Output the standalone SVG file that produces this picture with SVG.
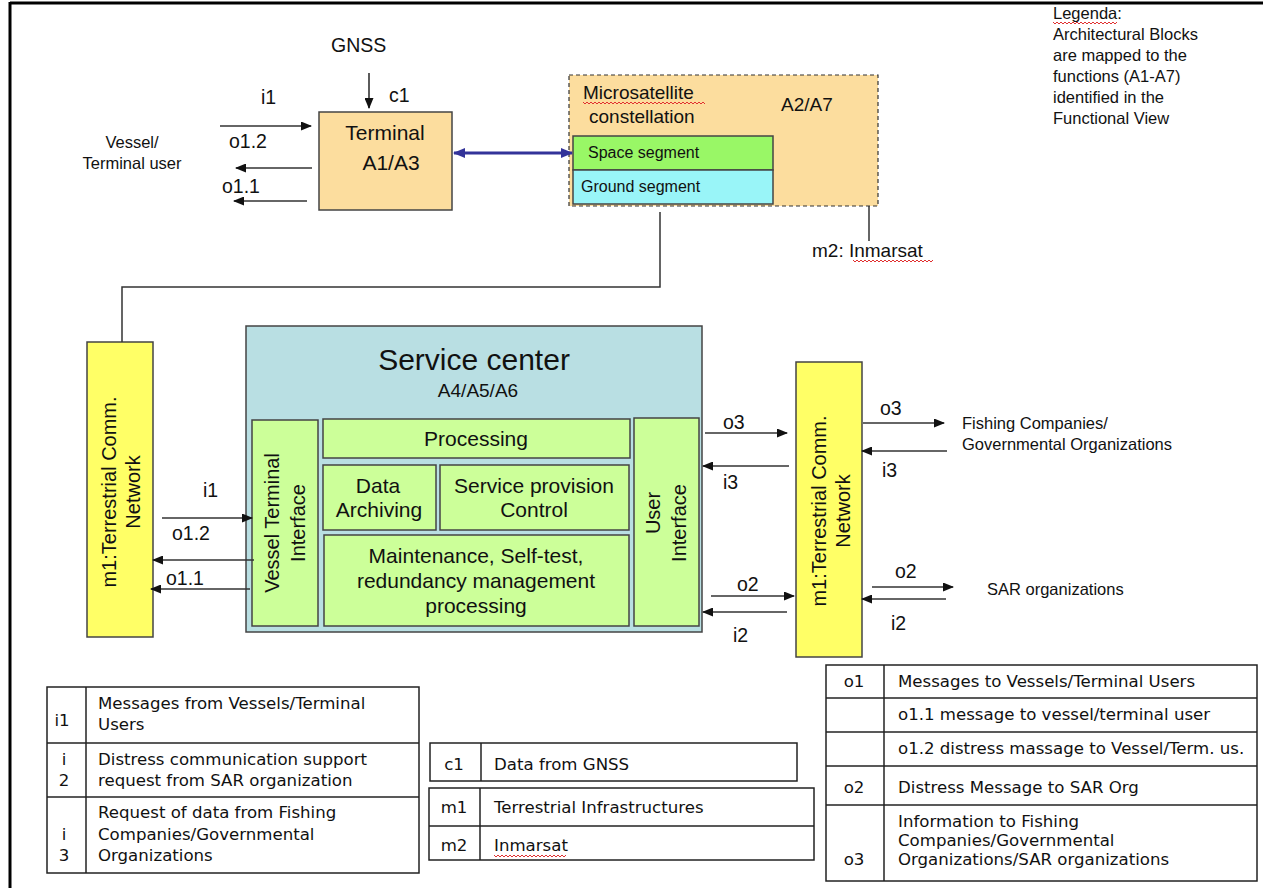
<svg xmlns="http://www.w3.org/2000/svg" width="1263" height="888" viewBox="0 0 1263 888">
  <defs>
    <marker id="ah" markerWidth="11" markerHeight="9" refX="10" refY="4.5" orient="auto" markerUnits="userSpaceOnUse">
      <path d="M0,0 L11,4.5 L0,9 Z" fill="#111"/>
    </marker>
    <marker id="bh" markerWidth="12" markerHeight="10" refX="11" refY="5" orient="auto-start-reverse" markerUnits="userSpaceOnUse">
      <path d="M0,0 L12,5 L0,10 Z" fill="#333399"/>
    </marker>
  </defs>
  <style>
    .t { font-family: "Liberation Sans", Arial, sans-serif; fill: #111; }
    .tb { font-family: "DejaVu Sans", "Liberation Sans", sans-serif; fill: #111; font-size: 16.6px; }
    .box { stroke: #444; stroke-width: 1.5; }
    .arr { stroke: #333; stroke-width: 1.6; fill: none; marker-end: url(#ah); }
    .wire { stroke: #333; stroke-width: 1.5; fill: none; }
    .tbl { fill: #fff; stroke: #222; stroke-width: 1.5; }
    .tl { stroke: #222; stroke-width: 1.5; }
    .sq { stroke: #e03030; stroke-width: 1; fill: none; }
  </style>

  <rect width="1263" height="888" fill="#fff"/>
  <!-- page frame -->
  <line x1="10" y1="3" x2="1263" y2="3" stroke="#000" stroke-width="3"/>
  <line x1="10" y1="2" x2="10" y2="888" stroke="#000" stroke-width="3"/>

  <!-- legend note -->
  <g id="legend-note" class="t" font-size="16.5">
    <text x="1053" y="19">Legenda:</text>
    <text x="1053" y="40">Architectural Blocks</text>
    <text x="1053" y="61">are mapped to the</text>
    <text x="1053" y="82">functions (A1-A7)</text>
    <text x="1053" y="103">identified in the</text>
    <text x="1053" y="124">Functional View</text>
    <polyline class="sq" points="1053,22 1055,24 1057,22 1059,24 1061,22 1063,24 1065,22 1067,24 1069,22 1071,24 1073,22 1075,24 1077,22 1079,24 1081,22 1083,24 1085,22 1087,24 1089,22 1091,24 1093,22 1095,24 1097,22 1099,24 1101,22 1103,24 1105,22 1107,24 1109,22 1111,24 1113,22 1115,24 1117,22"/>
  </g>

  <!-- external actors -->
  <g id="gnss" class="t" font-size="19.5"><text x="331" y="52">GNSS</text></g>
  <g id="vessel-user" class="t" font-size="16.5" text-anchor="middle">
    <text x="132" y="148">Vessel/</text>
    <text x="132" y="169">Terminal user</text>
  </g>
  <g id="fishing" class="t" font-size="16.5">
    <text x="962" y="429">Fishing Companies/</text>
    <text x="962" y="450">Governmental Organizations</text>
  </g>
  <g id="sar" class="t" font-size="16.5"><text x="987" y="595">SAR organizations</text></g>

  <!-- terminal -->
  <g id="terminal">
    <rect class="box" x="319" y="112" width="133" height="98" fill="#fcdd9e"/>
    <text class="t" font-size="21" x="385" y="140" text-anchor="middle">Terminal</text>
    <text class="t" font-size="21" x="391" y="170" text-anchor="middle">A1/A3</text>
  </g>

  <!-- microsatellite constellation -->
  <g id="microsatellite">
    <rect x="569" y="75" width="309" height="131" fill="#fcdd9e" stroke="#333" stroke-width="1.2" stroke-dasharray="4,3"/>
    <text class="t" font-size="19" x="583" y="99">Microsatellite</text>
    <text class="t" font-size="19" x="589" y="123">constellation</text>
    <text class="t" font-size="19" x="781" y="111">A2/A7</text>
    <polyline class="sq" points="583,102 585,104 587,102 589,104 591,102 593,104 595,102 597,104 599,102 601,104 603,102 605,104 607,102 609,104 611,102 613,104 615,102 617,104 619,102 621,104 623,102 625,104 627,102 629,104 631,102 633,104 635,102 637,104 639,102 641,104 643,102 645,104 647,102 649,104 651,102 653,104 655,102 657,104 659,102 661,104 663,102 665,104 667,102 669,104 671,102 673,104 675,102 677,104 679,102 681,104 683,102 685,104 687,102 689,104 691,102 693,104 695,102 697,104 699,102 701,104 703,102 705,104"/>
  </g>
  <g id="space-segment">
    <rect class="box" x="573" y="136" width="200" height="34" fill="#99f766"/>
    <text class="t" font-size="16" x="588" y="158">Space segment</text>
  </g>
  <g id="ground-segment">
    <rect class="box" x="573" y="170" width="200" height="34" fill="#99f5f8"/>
    <text class="t" font-size="16" x="581" y="192">Ground segment</text>
  </g>
  <g id="inmarsat" class="t" font-size="19">
    <text x="812" y="257">m2: Inmarsat</text>
    <polyline class="sq" points="853,260 855,262 857,260 859,262 861,260 863,262 865,260 867,262 869,260 871,262 873,260 875,262 877,260 879,262 881,260 883,262 885,260 887,262 889,260 891,262 893,260 895,262 897,260 899,262 901,260 903,262 905,260 907,262 909,260 911,262 913,260 915,262 917,260 919,262 921,260 923,262 925,260 927,262 929,260 931,262 933,260"/>
  </g>

  <!-- terrestrial networks -->
  <g id="m1-left">
    <rect class="box" x="87" y="342" width="66" height="295" fill="#ffff66"/>
    <g transform="translate(116,492) rotate(-90)" class="t" font-size="20" text-anchor="middle">
      <text x="0" y="0">m1:Terrestrial Comm.</text>
      <text x="0" y="24">Network</text>
    </g>
  </g>
  <g id="m1-right">
    <rect class="box" x="796" y="362" width="66" height="295" fill="#ffff66"/>
    <g transform="translate(826,511) rotate(-90)" class="t" font-size="20" text-anchor="middle">
      <text x="0" y="0">m1:Terrestrial Comm.</text>
      <text x="0" y="24">Network</text>
    </g>
  </g>

  <!-- service center -->
  <g id="service-center">
    <rect class="box" x="246" y="326" width="456" height="306" fill="#b9dfe3"/>
    <text class="t" font-size="30" x="474" y="370" text-anchor="middle">Service center</text>
    <text class="t" font-size="19" x="478" y="397" text-anchor="middle">A4/A5/A6</text>
  </g>
  <g id="vessel-terminal-interface">
    <rect class="box" x="252" y="420" width="66" height="206" fill="#ccff99"/>
    <g transform="translate(279,523) rotate(-90)" class="t" font-size="20" text-anchor="middle">
      <text x="0" y="0">Vessel Terminal</text>
      <text x="0" y="26">Interface</text>
    </g>
  </g>
  <g id="processing">
    <rect class="box" x="323" y="419" width="307" height="39" fill="#ccff99"/>
    <text class="t" font-size="21" x="476" y="446" text-anchor="middle">Processing</text>
  </g>
  <g id="data-archiving">
    <rect class="box" x="323" y="465" width="113" height="65" fill="#ccff99"/>
    <text class="t" font-size="21" x="378" y="493" text-anchor="middle">Data</text>
    <text class="t" font-size="21" x="379" y="517" text-anchor="middle">Archiving</text>
  </g>
  <g id="service-provision">
    <rect class="box" x="440" y="465" width="189" height="65" fill="#ccff99"/>
    <text class="t" font-size="21" x="534" y="493" text-anchor="middle">Service provision</text>
    <text class="t" font-size="21" x="534" y="517" text-anchor="middle">Control</text>
  </g>
  <g id="maintenance">
    <rect class="box" x="324" y="535" width="305" height="91" fill="#ccff99"/>
    <text class="t" font-size="21" x="476" y="563" text-anchor="middle">Maintenance, Self-test,</text>
    <text class="t" font-size="21" x="476" y="588" text-anchor="middle">redundancy management</text>
    <text class="t" font-size="21" x="476" y="613" text-anchor="middle">processing</text>
  </g>
  <g id="user-interface">
    <rect class="box" x="634" y="418" width="65" height="208" fill="#ccff99"/>
    <g transform="rotate(-90)" class="t" font-size="20" text-anchor="middle">
      <text x="-513" y="660">User</text>
      <text x="-523" y="686">Interface</text>
    </g>
  </g>

  <!-- connectors -->
  <g id="connectors">
    <line class="arr" x1="369" y1="73" x2="369" y2="108"/>
    <line class="arr" x1="220" y1="126" x2="311" y2="126"/>
    <line class="arr" x1="312" y1="168" x2="236" y2="168"/>
    <line class="arr" x1="307" y1="201" x2="234" y2="201"/>
    <line x1="454" y1="153" x2="572" y2="153" stroke="#333399" stroke-width="3" marker-start="url(#bh)" marker-end="url(#bh)"/>
    <polyline class="wire" points="660,212 660,287 122,287 122,342"/>
    <line class="wire" x1="869" y1="206" x2="869" y2="241"/>

    <line class="arr" x1="162" y1="518" x2="252" y2="518"/>
    <line class="arr" x1="254" y1="560" x2="153" y2="560"/>
    <line class="arr" x1="250" y1="589" x2="151" y2="589"/>

    <line class="arr" x1="705" y1="433" x2="787" y2="433"/>
    <line class="arr" x1="789" y1="466" x2="703" y2="466"/>
    <line class="arr" x1="711" y1="596" x2="794" y2="596"/>
    <line class="arr" x1="787" y1="612" x2="703" y2="612"/>

    <line class="arr" x1="863" y1="423" x2="944" y2="423"/>
    <line class="arr" x1="947" y1="451" x2="862" y2="451"/>
    <line class="arr" x1="872" y1="587" x2="953" y2="587"/>
    <line class="arr" x1="946" y1="599" x2="862" y2="599"/>
  </g>

  <!-- connector labels -->
  <g id="connector-labels" class="t" font-size="19.5">
    <text x="389" y="102">c1</text>
    <text x="261" y="104">i1</text>
    <text x="229" y="148">o1.2</text>
    <text x="222" y="193">o1.1</text>
    <text x="203" y="497">i1</text>
    <text x="172" y="540">o1.2</text>
    <text x="166" y="585">o1.1</text>
    <text x="723" y="429">o3</text>
    <text x="723" y="489">i3</text>
    <text x="737" y="591">o2</text>
    <text x="733" y="642">i2</text>
    <text x="880" y="415">o3</text>
    <text x="882" y="477">i3</text>
    <text x="895" y="578">o2</text>
    <text x="891" y="630">i2</text>
  </g>

  <!-- input table -->
  <g id="table-inputs">
    <rect class="tbl" x="47" y="687" width="372" height="186"/>
    <line class="tl" x1="86" y1="687" x2="86" y2="873"/>
    <line class="tl" x1="47" y1="743" x2="419" y2="743"/>
    <line class="tl" x1="47" y1="797" x2="419" y2="797"/>
    <g class="tb">
      <text x="62" y="726" text-anchor="middle">i1</text>
      <text x="98" y="709">Messages from Vessels/Terminal</text>
      <text x="98" y="730">Users</text>
      <text x="64" y="765" text-anchor="middle">i</text>
      <text x="64" y="786" text-anchor="middle">2</text>
      <text x="98" y="765">Distress communication  support</text>
      <text x="98" y="786">request from SAR organization</text>
      <text x="64" y="840" text-anchor="middle">i</text>
      <text x="64" y="861" text-anchor="middle">3</text>
      <text x="98" y="818">Request of data  from Fishing</text>
      <text x="98" y="840">Companies/Governmental</text>
      <text x="98" y="861">Organizations</text>
    </g>
  </g>

  <!-- control table -->
  <g id="table-control">
    <rect class="tbl" x="430" y="743" width="367" height="38"/>
    <line class="tl" x1="481" y1="743" x2="481" y2="781"/>
    <g class="tb">
      <text x="454" y="770" text-anchor="middle">c1</text>
      <text x="494" y="770">Data from GNSS</text>
    </g>
  </g>

  <!-- mechanism table -->
  <g id="table-mechanisms">
    <rect class="tbl" x="429" y="788" width="385" height="72"/>
    <line class="tl" x1="480" y1="788" x2="480" y2="860"/>
    <line class="tl" x1="429" y1="826" x2="814" y2="826"/>
    <g class="tb">
      <text x="454" y="813" text-anchor="middle">m1</text>
      <text x="494" y="813">Terrestrial Infrastructures</text>
      <text x="454" y="851" text-anchor="middle">m2</text>
      <text x="494" y="851">Inmarsat</text>
    </g>
    <polyline class="sq" points="494,855 496,857 498,855 500,857 502,855 504,857 506,855 508,857 510,855 512,857 514,855 516,857 518,855 520,857 522,855 524,857 526,855 528,857 530,855 532,857 534,855 536,857 538,855 540,857 542,855 544,857 546,855 548,857 550,855 552,857 554,855 556,857 558,855 560,857 562,855 564,857 566,855"/>
  </g>

  <!-- output table -->
  <g id="table-outputs">
    <rect class="tbl" x="826" y="665" width="431" height="216"/>
    <line class="tl" x1="884" y1="665" x2="884" y2="881"/>
    <line class="tl" x1="826" y1="698" x2="1257" y2="698"/>
    <line class="tl" x1="826" y1="732" x2="1257" y2="732"/>
    <line class="tl" x1="826" y1="766" x2="1257" y2="766"/>
    <line class="tl" x1="826" y1="805" x2="1257" y2="805"/>
    <g class="tb">
      <text x="854" y="687" text-anchor="middle">o1</text>
      <text x="898" y="687">Messages to Vessels/Terminal Users</text>
      <text x="898" y="720">o1.1 message to vessel/terminal user</text>
      <text x="898" y="754">o1.2 distress massage to Vessel/Term. us.</text>
      <text x="854" y="793" text-anchor="middle">o2</text>
      <text x="898" y="793">Distress Message to SAR Org</text>
      <text x="898" y="827">Information to Fishing</text>
      <text x="898" y="846">Companies/Governmental</text>
      <text x="898" y="865">Organizations/SAR organizations</text>
      <text x="854" y="865" text-anchor="middle">o3</text>
    </g>
  </g>
</svg>
